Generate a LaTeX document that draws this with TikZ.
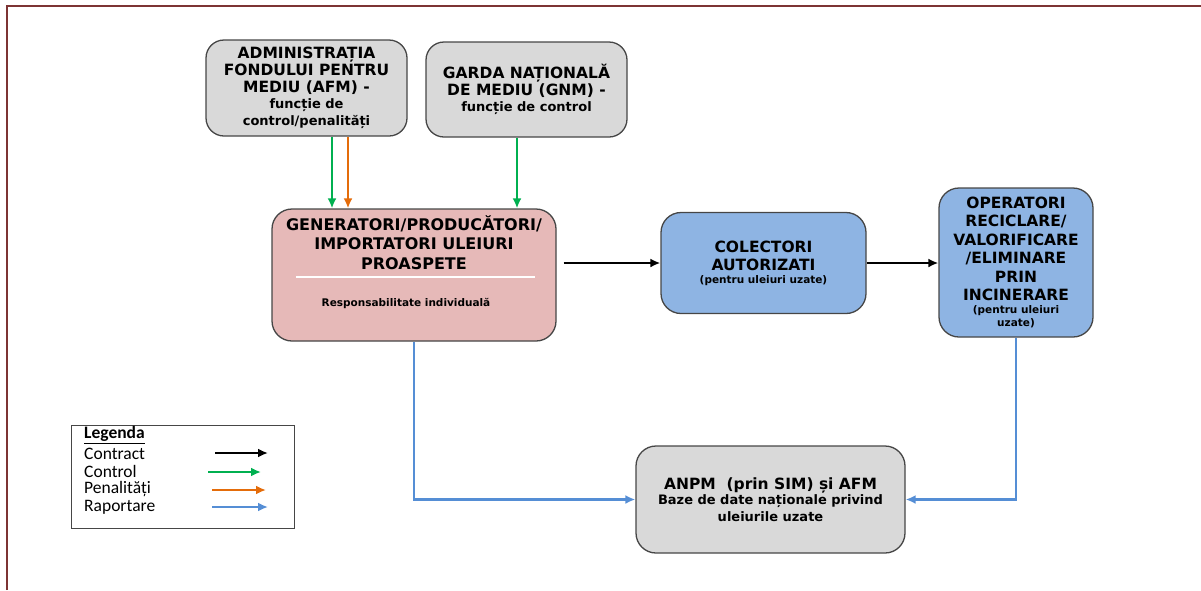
\documentclass[tikz,border=0pt]{standalone}
\usepackage{fontspec}
\setmainfont{DejaVu Sans}
\newfontfamily\legendfont{Carlito}
\usetikzlibrary{arrows.meta}

\definecolor{framered}{RGB}{125,52,52}
\definecolor{boxgray}{RGB}{217,217,217}
\definecolor{boxpink}{RGB}{230,185,184}
\definecolor{boxblue}{RGB}{142,180,227}
\definecolor{edgegray}{RGB}{70,70,70}
\definecolor{ctrlgreen}{RGB}{0,176,80}
\definecolor{penorange}{RGB}{228,108,10}
\definecolor{repblue}{RGB}{85,142,213}

% font sizes for the box texts
\newcommand{\tbig}{\fontsize{15.5}{17}\selectfont\bfseries}
\newcommand{\tmid}{\fontsize{13}{16}\selectfont\bfseries}
\newcommand{\tsmall}{\fontsize{10.5}{13}\selectfont\bfseries}

\tikzset{
    box/.style={draw=edgegray, line width=1.3pt, rounded corners=18pt, align=center, font=\tbig},
    contract/.style={-{Latex[length=10pt,width=9pt]}, line width=2.8pt, black},
    control/.style={-{Latex[length=10pt,width=9pt]}, line width=2.8pt, ctrlgreen},
    penalty/.style={-{Latex[length=10pt,width=9pt]}, line width=2.8pt, penorange},
    report/.style={-{Latex[length=10pt,width=9pt]}, line width=2.8pt, repblue},
    legtext/.style={anchor=west, inner sep=0pt, font=\legendfont\fontsize{17.5}{18}\selectfont}
}

\begin{document}
\begin{tikzpicture}[x=1pt, y=-1pt]
    \useasboundingbox (0,0) rectangle (1201,590);

    % Frame
    \draw[framered, line width=2pt] (7,590) -- (7,6) -- (1201,6);

    % Boxes
    \node[box, fill=boxgray, minimum width=201pt, minimum height=96pt, inner sep=1pt] (afm) at (306.5,88)
        {ADMINISTRAȚIA\\FONDULUI PENTRU\\MEDIU (AFM) -\\[-1.5pt]
         \tmid funcție de\\\tmid control/penalități};
    \node[box, fill=boxgray, minimum width=201pt, minimum height=95pt, inner sep=1pt] (gnm) at (526.5,89.5)
        {GARDA NAȚIONALĂ\\DE MEDIU (GNM) -\\[-1.5pt]\tmid funcție de control};
    \node[box, fill=boxpink, rounded corners=20pt, minimum width=284pt, minimum height=132pt] (gen) at (414,275) {};
    \node[font=\fontsize{16}{19.5}\selectfont\bfseries, align=center] (gentitle) at (414,242.5)
        {GENERATORI/PRODUCĂTORI/\\IMPORTATORI ULEIURI\\PROASPETE};
    \draw[white, line width=2pt] (296,277) -- (535,277);
    \node[font=\tsmall] (genresp) at (406,303) {Responsabilitate individuală};
    \node[box, fill=boxblue, rounded corners=20pt, minimum width=205pt, minimum height=101pt] (col) at (763.5,263)
        {COLECTORI\\[1pt]AUTORIZATI\\[-4pt]\tsmall (pentru uleiuri uzate)};
    \node[box, fill=boxblue, rounded corners=20pt, minimum width=154pt, minimum height=149pt, inner sep=1pt] (op) at (1016,262.5)
        {OPERATORI\\[1.5pt]RECICLARE/\\[1.5pt]VALORIFICARE\\[1.5pt]/ELIMINARE\\[1.5pt]PRIN\\[1.5pt]INCINERARE\\[-4pt]
         \tsmall (pentru uleiuri\\[-4pt]\tsmall uzate)};
    \node[box, fill=boxgray, rounded corners=20pt, minimum width=269pt, minimum height=107pt] (anpm) at (770.5,499.5)
        {ANPM\ \ (prin SIM) și AFM\\[-1.5pt]\tmid Baze de date naționale privind\\\tmid uleiurile uzate};

    % Connectors
    \draw[control] ([xshift=25.5pt]afm.south) -- ([xshift=25.5pt]afm.south |- gen.north);
    \draw[penalty] ([xshift=41.5pt]afm.south) -- ([xshift=41.5pt]afm.south |- gen.north);
    \draw[control] ([xshift=-9.5pt]gnm.south) -- ([xshift=-9.5pt]gnm.south |- gen.north);
    \draw[contract] ([xshift=7pt]col.west -| gen.east) -- (col.west);
    \draw[contract] (col.east) -- (col.east -| op.west);
    \draw[report] (gen.south) |- (anpm.west);
    \draw[report] (op.south) |- (anpm.east);

    % Legend
    \node[draw=edgegray, line width=1pt, minimum width=223pt, minimum height=103pt] (legend) at (182.5,476.5) {};
    \node[legtext, font=\legendfont\fontsize{17.5}{18}\selectfont\bfseries] (legtitle) at (84,435) {\underline{Legenda}};
    \node[legtext] (legcontract) at (84,453.5) {Contract};
    \node[legtext] (legcontrol) at (84,471) {Control};
    \node[legtext] (legpenalty) at (84,489) {Penalități};
    \node[legtext] (legreport) at (84,507) {Raportare};
    \coordinate (c1) at (215,453);  \coordinate (c2) at (268,453);
    \coordinate (g1) at (208,472);  \coordinate (g2) at (261,472);
    \coordinate (o1) at (212,490);  \coordinate (o2) at (266,490);
    \coordinate (b1) at (212,507);  \coordinate (b2) at (268,507);
    \draw[contract] (c1) -- (c2);
    \draw[control] (g1) -- (g2);
    \draw[penalty] (o1) -- (o2);
    \draw[report] (b1) -- (b2);
\end{tikzpicture}
\end{document}
